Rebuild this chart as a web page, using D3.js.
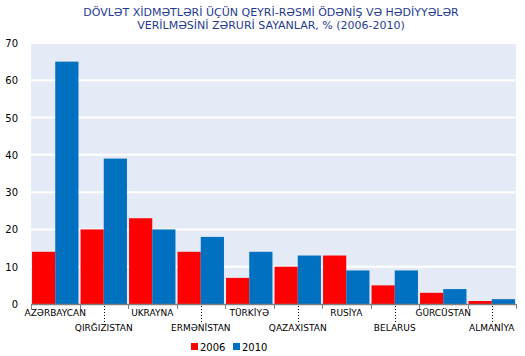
<!DOCTYPE html>
<html><head><meta charset="utf-8">
<script src="https://cdn.jsdelivr.net/npm/d3@7"></script>
<style>body{margin:0;background:#fff}svg{display:block}</style>
</head><body>
<svg id="c" width="525" height="356"></svg>
<script>
const categories = ["AZƏRBAYCAN","QIRĞIZISTAN","UKRAYNA","ERMƏNİSTAN","TÜRKİYƏ","QAZAXISTAN","RUSİYA","BELARUS","GÜRCÜSTAN","ALMANİYA"];
const series = ["2006","2010"];
const values2006 = [14,20,23,14,7,10,13,5,3,0.8];
const values2010 = [65,39,20,18,14,13,9,9,4,1.3];
const yTicks = [0,10,20,30,40,50,60,70];
const titleLines = ["DÖVLƏT XİDMƏTLƏRİ ÜÇÜN QEYRİ-RƏSMİ ÖDƏNİŞ VƏ HƏDİYYƏLƏR","VERİLMƏSİNİ ZƏRURİ SAYANLAR, % (2006-2010)"];
const colors = ["#FF0000","#0070C0"];
const font = "Verdana, 'DejaVu Sans', sans-serif";

const svg = d3.select("#c");
const m = {l:31, r:516, t:43, b:304};
const x = d3.scaleBand().domain(categories).range([m.l, m.r]).paddingInner(0).paddingOuter(0);
const xs = d3.scaleBand().domain(series).range([0, x.bandwidth()]).paddingInner(0).paddingOuter(0.045);
const y = d3.scaleLinear().domain([0,70]).range([m.b, m.t]);

svg.append("rect").attr("x",m.l).attr("y",m.t).attr("width",m.r-m.l).attr("height",m.b-m.t).attr("fill","#E4EBF7");
svg.append("g").selectAll("line").data(yTicks.filter(d=>d>0)).join("line")
  .attr("x1",m.l).attr("x2",m.r).attr("y1",d=>y(d)).attr("y2",d=>y(d))
  .attr("stroke","#fff").attr("stroke-width",2);

const data = categories.map((c,i)=>({c, v:[values2006[i], values2010[i]]}));
const g = svg.append("g");
g.selectAll("g").data(data).join("g").attr("transform",d=>`translate(${x(d.c)},0)`)
 .selectAll("rect").data(d=>d.v.map((v,j)=>({s:series[j], v, j}))).join("rect")
 .attr("x",d=>xs(d.s)).attr("width",xs.bandwidth())
 .attr("y",d=>y(d.v)).attr("height",d=>y(0)-y(d.v)).attr("fill",d=>colors[d.j]);

// y axis labels
svg.append("g").selectAll("text").data(yTicks).join("text")
  .attr("x",18).attr("y",d=>y(d)+4).attr("text-anchor","end")
  .attr("font-family",font).attr("font-size",10).attr("fill","#000").text(d=>d);

// x axis
svg.append("line").attr("x1",m.l).attr("x2",m.r).attr("y1",m.b+0.5).attr("y2",m.b+0.5).attr("stroke","#808080").attr("stroke-width",1.5);
const bounds = categories.map(c=>x(c)).concat([m.r]);
svg.append("g").selectAll("line").data(bounds).join("line")
  .attr("x1",d=>Math.round(d)+0.5).attr("x2",d=>Math.round(d)+0.5).attr("y1",m.b).attr("y2",m.b+5)
  .attr("stroke","#808080").attr("stroke-width",1);
svg.append("g").selectAll("line").data(categories.filter((c,i)=>i%2===1)).join("line")
  .attr("x1",d=>Math.round(x(d)+x.bandwidth()/2)+0.5).attr("x2",d=>Math.round(x(d)+x.bandwidth()/2)+0.5)
  .attr("y1",m.b+2).attr("y2",m.b+18).attr("stroke","#000").attr("stroke-dasharray","1,2");
svg.append("g").selectAll("text").data(categories).join("text")
  .attr("x",d=>x(d)+x.bandwidth()/2).attr("y",(d,i)=>i%2===0?316:331).attr("text-anchor","middle")
  .attr("font-family",font).attr("font-size",9).attr("fill","#000").text(d=>d);

// title
svg.append("g").selectAll("text").data(titleLines).join("text")
  .attr("x",271).attr("y",(d,i)=>16+i*13).attr("text-anchor","middle")
  .attr("font-family",font).attr("font-size",11).attr("fill","#1F3A93").text(d=>d);

// legend
const lg = svg.append("g").selectAll("g").data(series).join("g").attr("transform",(d,i)=>`translate(${191+i*42},343)`);
lg.append("rect").attr("width",7).attr("height",7).attr("fill",(d,i)=>colors[i]);
lg.append("text").attr("x",9).attr("y",7.5).attr("font-family",font).attr("font-size",10).attr("fill","#000").text(d=>d);
</script>
</body></html>
